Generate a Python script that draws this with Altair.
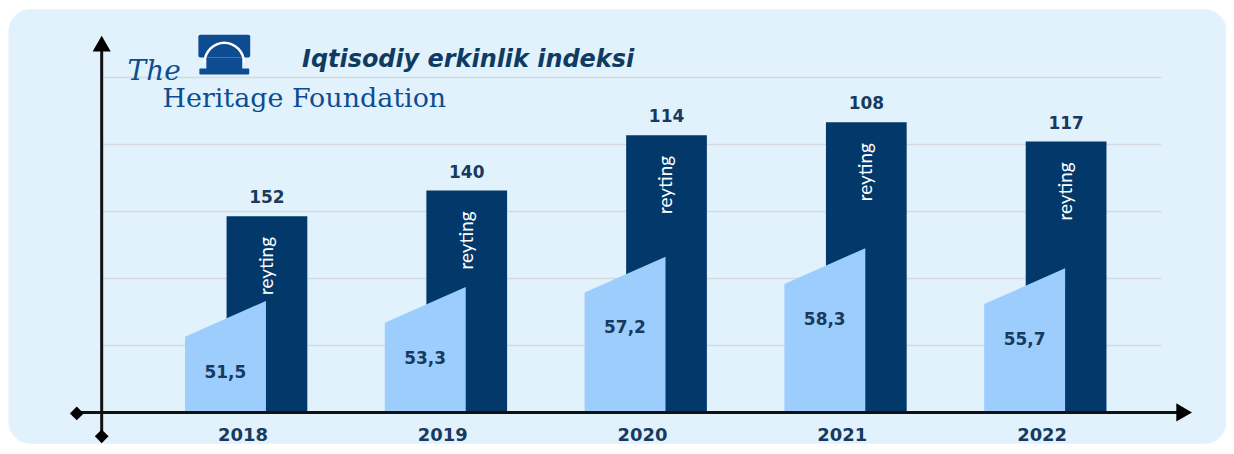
import altair as alt
import pandas as pd

# ---- data ----
years = [2018, 2019, 2020, 2021, 2022]
ranks = [152, 140, 114, 108, 117]          # reyting (rank)
scores = [51.5, 53.3, 57.2, 58.3, 55.7]    # index score
grid_levels = [1, 2, 3, 4, 5]

title_text = "Iqtisodiy erkinlik indeksi"
logo_the = "The"
logo_name = "Heritage Foundation"
bar_label = "reyting"

# ---- style ----
W, H = 1222, 436
NAVY = "#03396a"
LIGHT = "#9dcdfc"
PANEL = "#e1f2fd"
TEXT = "#173a5e"
LOGO = "#0e4c92"
AXIS = "#111111"
BASE_Y = 405

df = pd.DataFrame({"year": years, "rank": ranks, "score": scores})
one = alt.Data(values=[{"k": 1}])

x_scale = alt.Scale(domain=[2016.7289, 2022.7754], nice=False, zero=False)
rank_scale = alt.Scale(domain=[258.48, 54.72], nice=False, zero=False)
score_scale = alt.Scale(domain=[33.17, 89.14], nice=False, zero=False)
grid_scale = alt.Scale(domain=[-0.4613, 6.027], nice=False, zero=False)

grid = alt.Chart(pd.DataFrame({"lvl": grid_levels})).mark_rule(
    color="#d5d9dd", strokeWidth=1.5
).encode(
    y=alt.Y("lvl:Q", scale=grid_scale, axis=None),
    x=alt.value(94), x2=alt.value(1157)
)

base = alt.Chart(df)

bars = base.mark_bar(width=81, color=NAVY).encode(
    x=alt.X("year:Q", scale=x_scale, axis=None),
    y=alt.Y("rank:Q", scale=rank_scale, axis=None, stack=None),
    y2=alt.value(BASE_Y)
)

reyting = base.mark_text(
    angle=270, align="center", baseline="middle", dx=-50,
    font="Lato", fontSize=19, color="white"
).encode(
    x=alt.X("year:Q", scale=x_scale, axis=None),
    y=alt.Y("rank:Q", scale=rank_scale, axis=None),
    text=alt.value(bar_label)
)

area = base.transform_calculate(
    left="datum.year - 0.41", right="datum.year - 0.005"
).transform_fold(
    ["left", "right"], as_=["edge", "ex"]
).transform_calculate(
    ey="datum.edge == 'left' ? datum.score - 4.6 : datum.score"
).mark_area(color=LIGHT, opacity=1).encode(
    x=alt.X("ex:Q", scale=x_scale, axis=None),
    y=alt.Y("ey:Q", scale=score_scale, axis=None, stack=None),
    y2=alt.value(BASE_Y),
    detail="year:N"
)

score_lbl = base.transform_calculate(
    sx="datum.year - 0.208",
    slab="replace(format(datum.score, '.1f'), '.', ',')"
).mark_text(
    font="DejaVu Sans", fontWeight="bold", fontSize=17, color=TEXT,
    align="center", baseline="middle", dy=72
).encode(
    x=alt.X("sx:Q", scale=x_scale, axis=None),
    y=alt.Y("score:Q", scale=score_scale, axis=None),
    text="slab:N"
)

rank_lbl = base.mark_text(
    font="DejaVu Sans", fontWeight="bold", fontSize=17, color=TEXT,
    align="center", baseline="alphabetic", dy=-13
).encode(
    x=alt.X("year:Q", scale=x_scale, axis=None),
    y=alt.Y("rank:Q", scale=rank_scale, axis=None),
    text=alt.Text("rank:Q", format="d")
)

year_lbl = base.transform_calculate(yx="datum.year - 0.12").mark_text(
    font="DejaVu Sans", fontWeight="bold", fontSize=18, color=TEXT,
    align="center", baseline="middle"
).encode(
    x=alt.X("yx:Q", scale=x_scale, axis=None),
    y=alt.value(429),
    text=alt.Text("year:Q", format="d")
)

axis_v = alt.Chart(one).mark_rule(color=AXIS, strokeWidth=3).encode(
    x=alt.value(94), y=alt.value(40), y2=alt.value(429))
axis_h = alt.Chart(one).mark_rule(color=AXIS, strokeWidth=3).encode(
    y=alt.value(405), x=alt.value(69), x2=alt.value(1174))
arrow_up = alt.Chart(one).mark_point(shape="triangle-up", filled=True, size=330,
                                     color="#000", opacity=1).encode(
    x=alt.value(94), y=alt.value(35))
arrow_right = alt.Chart(one).mark_point(shape="triangle-right", filled=True, size=330,
                                        color="#000", opacity=1).encode(
    x=alt.value(1180), y=alt.value(405))
dia_left = alt.Chart(one).mark_point(shape="diamond", filled=True, size=190,
                                     color="#000", opacity=1).encode(
    x=alt.value(69), y=alt.value(406))
dia_bottom = alt.Chart(one).mark_point(shape="diamond", filled=True, size=190,
                                       color="#000", opacity=1).encode(
    x=alt.value(94), y=alt.value(429))

title = alt.Chart(alt.Data(values=[{"t": title_text}])).mark_text(
    font="DejaVu Sans", fontWeight="bold", fontStyle="italic", fontSize=24,
    color="#0f3b62", align="left", baseline="alphabetic"
).encode(x=alt.value(295), y=alt.value(58), text="t:N")

the_txt = alt.Chart(alt.Data(values=[{"t": logo_the}])).mark_text(
    font="DejaVu Serif", fontStyle="italic", fontSize=28,
    color=LOGO, align="left", baseline="alphabetic"
).encode(x=alt.value(120), y=alt.value(72), text="t:N")

name_txt = alt.Chart(alt.Data(values=[{"t": logo_name}])).mark_text(
    font="DejaVu Serif", fontSize=27, color=LOGO, align="left", baseline="alphabetic"
).encode(x=alt.value(155), y=alt.value(99), text="t:N")

# Liberty-bell style logo glyph
bell_cap = alt.Chart(one).mark_rect(color=LOGO, cornerRadius=2).encode(
    x=alt.value(191), x2=alt.value(243), y=alt.value(26), y2=alt.value(49))
bell_ring = alt.Chart(one).mark_arc(
    theta=4.712, theta2=7.854, radius=21, radius2=18.5, color="white"
).encode(x=alt.value(217), y=alt.value(54))
bell_body = alt.Chart(one).mark_rect(color=LOGO).encode(
    x=alt.value(199), x2=alt.value(235), y=alt.value(49), y2=alt.value(62))
bell_flare = alt.Chart(one).mark_rect(color=LOGO, cornerRadius=1).encode(
    x=alt.value(192), x2=alt.value(242), y=alt.value(60), y2=alt.value(66))

chart = alt.layer(
    grid, bars, reyting, area, score_lbl, rank_lbl, year_lbl,
    axis_v, axis_h, arrow_up, arrow_right, dia_left, dia_bottom,
    title, the_txt, name_txt, bell_cap, bell_ring, bell_body, bell_flare
).resolve_scale(
    y="independent"
).properties(
    width=W, height=H, padding=0,
    autosize=alt.AutoSizeParams(type="none"),
    background="white"
).configure_view(
    fill=PANEL, stroke="transparent", cornerRadius=22
)

chart.save("out.html", embed_options={"renderer": "svg", "actions": False})
